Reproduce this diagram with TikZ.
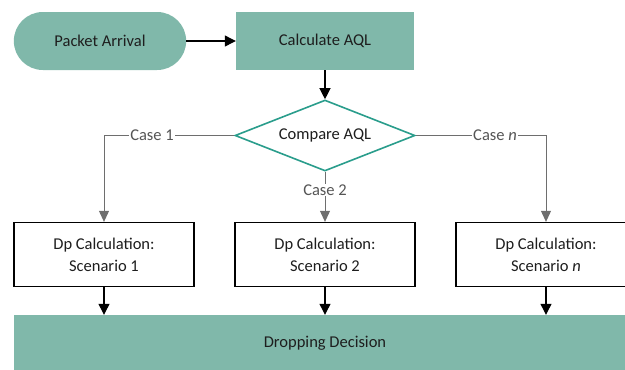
\documentclass[tikz,border=0pt]{standalone}
\usepackage{fontspec}
\setmainfont{Carlito}
\usetikzlibrary{shapes.geometric,shapes.misc,arrows.meta}
\definecolor{tealfill}{RGB}{128,184,170}
\definecolor{tealline}{RGB}{42,157,140}
\definecolor{linkgray}{RGB}{110,110,110}
\definecolor{labelgray}{RGB}{85,85,85}
\definecolor{inktext}{RGB}{30,30,30}
\tikzset{
  every node/.style={font=\fontsize{16.5}{22}\selectfont, text=inktext},
  terminal/.style={rounded rectangle, fill=tealfill, minimum width=179pt, minimum height=58pt},
  process/.style={rectangle, fill=tealfill, minimum width=178pt, minimum height=58pt, inner sep=0pt},
  decision/.style={diamond, draw=tealline, line width=1.6pt, fill=white, minimum width=180pt, minimum height=71pt, inner sep=0pt, aspect=2.5},
  calcbox/.style={rectangle, draw=black, line width=1.3pt, fill=white, minimum width=180pt, minimum height=64pt, align=center, inner sep=0pt},
  flow/.style={draw=black, line width=1.2pt, -{Triangle[length=11pt,width=11pt]}},
  branch/.style={draw=linkgray, line width=0.9pt, -{Triangle[length=11pt,width=10pt]}},
  caselabel/.style={fill=white, inner sep=1pt, text=labelgray},
}
\begin{document}
\begin{tikzpicture}[x=1pt,y=-1pt]
  \useasboundingbox (0,0) rectangle (625,370);
  \begin{scope}
  \clip (0,0) rectangle (625,370);
  % top row
  \node[terminal] (arrive) at (100,41) {Packet Arrival};
  \node[process] (aql) at (325,41) {Calculate AQL};
  % decision
  \node[decision] (cmp) at (325,135.5) {Compare AQL};
  % scenario boxes
  \node[calcbox] (s1) at (104,254.5) {Dp Calculation:\\Scenario 1};
  \node[calcbox] (s2) at (325,254.5) {Dp Calculation:\\Scenario 2};
  \node[calcbox] (s3) at (546,254.5) {Dp Calculation:\\Scenario \textit{n}};
  % final stage
  \node[rectangle, fill=tealfill, minimum width=640pt, minimum height=56pt, inner sep=0pt] (drop) at (334,343) {};
  \node (droptext) at (325,343) {Dropping Decision};
  % main flow
  \draw[flow] (arrive.east) -- (aql.west);
  \draw[flow] (aql.south) -- (cmp.north);
  % branches
  \coordinate (c1) at (104,135.5);
  \coordinate (cn) at (546,135.5);
  \draw[branch] (cmp.west) -- (c1) -- (s1.north);
  \draw[branch] (cmp.east) -- (cn) -- (s3.north);
  \draw[branch] (cmp.south) -- (s2.north);
  \node[caselabel] (l1) at (152,135.5) {Case 1};
  \node[caselabel] (ln) at (495,135.5) {Case \textit{n}};
  \node[caselabel] (l2) at (325,190) {Case 2};
  % into the decision stage
  \draw[flow] (s1.south) -- (s1.south |- drop.north);
  \draw[flow] (s2.south) -- (s2.south |- drop.north);
  \draw[flow] (s3.south) -- (s3.south |- drop.north);
  \end{scope}
\end{tikzpicture}
\end{document}
